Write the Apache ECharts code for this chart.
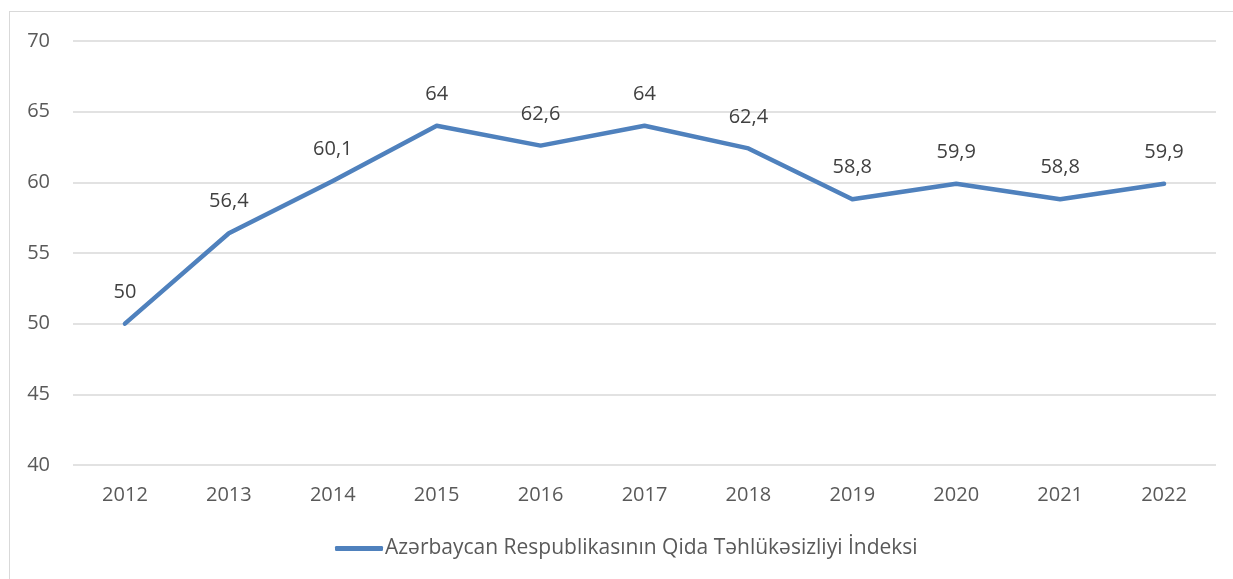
<!DOCTYPE html>
<html>
<head>
<meta charset="utf-8">
<script src="https://cdn.jsdelivr.net/npm/echarts@6/dist/echarts.min.js"></script>
<style>
html,body{margin:0;padding:0;background:#fff;overflow:hidden;}
#frame{position:absolute;left:9px;top:11px;width:1400px;height:800px;border:1px solid #d9d9d9;box-sizing:border-box;}
#chart{position:absolute;left:0;top:0;width:1233px;height:579px;}
</style>
</head>
<body>
<div id="frame"></div>
<div id="chart"></div>
<script>
const categories = ['2012','2013','2014','2015','2016','2017','2018','2019','2020','2021','2022'];
const values = [50, 56.4, 60.1, 64, 62.6, 64, 62.4, 58.8, 59.9, 58.8, 59.9];
const seriesName = 'Azərbaycan Respublikasının Qida Təhlükəsizliyi İndeksi';
const yMin = 40, yMax = 70, yStep = 5;

const chart = echarts.init(document.getElementById('chart'), null, {renderer:'canvas'});
const font = '"Open Sans", sans-serif';
const blue = '#4f81bd';
chart.setOption({
  animation:false,
  backgroundColor:'transparent',
  grid:{left:73, right:17, top:41, bottom:114, containLabel:false},
  xAxis:{
    type:'category', data:categories, boundaryGap:true,
    axisLine:{show:false}, axisTick:{show:false},
    axisLabel:{color:'#595959', fontSize:20, fontFamily:font, margin:20}
  },
  yAxis:{
    type:'value', min:yMin, max:yMax, interval:yStep,
    axisLine:{show:false}, axisTick:{show:false},
    splitLine:{lineStyle:{color:'#d9d9d9', width:1.5}},
    axisLabel:{color:'#595959', fontSize:20, fontFamily:font, margin:23}
  },
  legend:{
    bottom:15, left:330,
    itemWidth:48, itemHeight:5, itemGap:10,
    icon:'roundRect',
    itemStyle:{color:blue},
    textStyle:{color:'#595959', fontSize:21, fontFamily:font, padding:[0,0,0,-3]},
    data:[seriesName]
  },
  series:[{
    name:seriesName, type:'line', data:values,
    symbol:'circle', symbolSize:1, showSymbol:true,
    itemStyle:{color:blue},
    lineStyle:{color:blue, width:4.5, cap:'round', join:'round'},
    label:{show:true, position:'top', distance:21, color:'#404040', fontSize:20, fontFamily:font,
      formatter:p=>String(p.value).replace('.',',')}
  }]
});
</script>
</body>
</html>
